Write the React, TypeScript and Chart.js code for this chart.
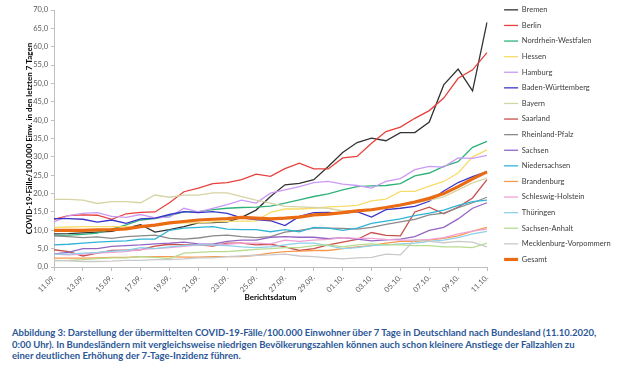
import React, { useEffect, useRef } from "react";
import { Chart, registerables } from "chart.js";

Chart.register(...registerables);

const dates = [
  "11.09.", "12.09.", "13.09.", "14.09.", "15.09.", "16.09.", "17.09.", "18.09.", "19.09.", "20.09.",
  "21.09.", "22.09.", "23.09.", "24.09.", "25.09.", "26.09.", "27.09.", "28.09.", "29.09.", "30.09.",
  "01.10.", "02.10.", "03.10.", "04.10.", "05.10.", "06.10.", "07.10.", "08.10.", "09.10.", "10.10.", "11.10.",
];

const bremen = [9.0, 9.1, 9.3, 9.5, 9.7, 10.6, 11.5, 9.5, 10.2, 11.0, 12.0, 12.1, 12.3, 13.5, 15.5, 19.2, 22.4, 22.8, 23.8, 27.4, 31.2, 33.9, 35.1, 34.4, 36.6, 36.6, 39.5, 49.6, 53.9, 48.0, 66.6];
const berlin = [13.0, 14.0, 14.2, 14.1, 13.0, 14.5, 14.9, 15.0, 17.5, 20.5, 21.5, 22.7, 23.0, 23.8, 25.3, 24.7, 26.8, 28.3, 26.7, 26.7, 29.7, 30.1, 33.7, 36.9, 38.1, 40.5, 42.6, 46.0, 51.4, 53.7, 58.4];
const nrw = [8.6, 8.7, 8.9, 9.2, 10.3, 11.5, 12.8, 13.2, 14.0, 15.0, 15.1, 15.6, 16.0, 16.2, 16.3, 16.6, 17.4, 18.3, 19.2, 19.9, 21.0, 21.9, 22.1, 22.2, 22.7, 24.8, 25.6, 27.4, 28.7, 32.6, 34.2];
const hessen = [10.8, 10.9, 11.0, 11.0, 11.0, 11.0, 11.0, 11.3, 11.8, 12.0, 12.0, 12.3, 12.4, 12.5, 12.5, 14.9, 15.8, 15.8, 16.0, 16.4, 16.5, 16.8, 18.0, 18.5, 20.6, 20.6, 22.0, 23.3, 25.6, 30.0, 31.9];
const hamburg = [12.3, 14.0, 14.6, 14.8, 13.8, 13.5, 14.3, 13.4, 13.6, 16.0, 15.0, 16.0, 17.0, 18.2, 17.4, 20.1, 21.0, 21.9, 23.0, 23.3, 22.6, 22.2, 21.5, 23.3, 24.1, 26.5, 27.4, 27.2, 29.7, 29.6, 30.4];
const badenWuerttemberg = [13.2, 13.2, 13.0, 12.2, 12.8, 11.9, 13.1, 13.3, 14.3, 15.1, 14.8, 15.1, 14.6, 13.4, 12.9, 12.6, 11.3, 13.8, 14.8, 14.9, 14.6, 15.1, 13.6, 15.6, 16.0, 16.5, 17.9, 20.7, 23.0, 24.6, 26.0];
const bayern = [18.4, 18.4, 18.2, 17.3, 17.8, 17.8, 17.5, 19.6, 19.0, 19.6, 19.6, 20.2, 20.2, 19.2, 18.2, 17.4, 16.5, 16.4, 16.2, 16.0, 15.3, 15.4, 15.8, 16.1, 16.7, 17.4, 18.2, 19.1, 21.0, 22.9, 24.2];
const saarland = [4.7, 4.2, 3.0, 3.8, 4.5, 4.6, 4.7, 5.7, 6.2, 6.0, 6.0, 5.7, 6.5, 6.5, 6.0, 6.2, 5.5, 4.5, 5.0, 6.0, 6.8, 7.5, 9.4, 8.6, 8.5, 15.0, 16.3, 14.5, 16.3, 18.8, 23.8];
const rheinlandPfalz = [8.5, 8.3, 8.0, 8.2, 7.8, 8.3, 8.5, 8.7, 7.8, 7.6, 7.9, 8.5, 8.7, 8.3, 8.0, 8.3, 9.5, 10.0, 10.6, 10.6, 10.5, 10.3, 10.8, 11.6, 12.3, 13.0, 14.2, 14.7, 16.2, 17.5, 19.0];
const sachsen = [3.6, 4.0, 5.0, 5.0, 5.6, 5.8, 6.0, 6.3, 6.5, 6.8, 6.3, 6.2, 7.0, 7.3, 7.3, 8.1, 8.3, 8.1, 8.1, 7.7, 8.0, 7.6, 7.1, 7.4, 7.6, 8.3, 10.0, 10.8, 13.1, 16.0, 17.5];
const niedersachsen = [6.0, 6.2, 6.5, 6.8, 7.0, 7.1, 7.6, 7.6, 10.0, 10.6, 10.8, 11.0, 10.3, 10.2, 10.2, 9.6, 10.2, 9.6, 10.8, 10.6, 10.0, 10.6, 11.9, 12.5, 13.1, 14.0, 14.7, 15.5, 16.8, 17.8, 18.2];
const brandenburg = [2.4, 2.4, 2.4, 2.5, 2.6, 2.6, 2.8, 2.8, 2.8, 2.7, 2.7, 2.8, 2.8, 2.8, 3.2, 3.8, 4.2, 4.3, 4.5, 4.5, 5.0, 5.5, 5.8, 6.5, 7.0, 7.0, 7.3, 7.8, 8.5, 9.8, 10.8];
const schleswigHolstein = [3.5, 3.3, 3.5, 3.8, 4.0, 4.2, 4.8, 5.0, 5.3, 5.6, 6.0, 6.0, 6.2, 6.5, 6.5, 6.3, 7.3, 7.0, 7.3, 7.5, 8.0, 7.8, 7.8, 7.5, 7.3, 7.3, 7.5, 8.0, 9.0, 9.8, 10.3];
const thueringen = [3.5, 3.5, 3.8, 4.0, 4.3, 4.5, 5.3, 5.0, 5.5, 5.8, 6.0, 6.0, 5.8, 5.5, 5.3, 5.5, 6.0, 6.5, 6.5, 5.8, 5.0, 5.3, 5.8, 6.0, 6.3, 6.5, 7.0, 7.3, 8.0, 9.0, 9.7];
const sachsenAnhalt = [1.7, 1.8, 2.0, 2.3, 2.5, 2.5, 2.8, 2.6, 2.3, 3.8, 4.0, 4.2, 4.2, 4.5, 4.8, 5.0, 5.3, 5.3, 5.8, 6.0, 5.5, 6.0, 6.3, 6.0, 6.0, 5.8, 5.8, 5.5, 5.5, 5.3, 6.5];
const mecklenburgVorpommern = [1.8, 1.7, 1.5, 1.5, 1.6, 1.8, 1.8, 2.0, 2.0, 2.2, 2.5, 2.5, 2.8, 3.0, 3.2, 3.3, 3.5, 3.0, 2.8, 2.5, 2.2, 2.5, 2.6, 3.5, 3.3, 7.4, 7.0, 6.6, 7.0, 6.8, 5.5];
const gesamt = [10.0, 10.0, 10.0, 10.1, 10.2, 10.4, 11.0, 11.4, 12.0, 12.4, 12.8, 13.0, 13.2, 13.5, 13.3, 13.1, 13.3, 13.6, 14.2, 14.4, 14.8, 15.3, 15.6, 16.2, 16.9, 17.7, 18.7, 20.0, 21.9, 24.0, 25.9];

const yTitle = "COVID-19-Fälle/100.000 Einw. in den letzten 7 Tagen";
const xTitle = "Berichtsdatum";
const captionLines = [
  "Abbildung 3: Darstellung der übermittelten COVID-19-Fälle/100.000 Einwohner über 7 Tage in Deutschland nach Bundesland (11.10.2020,",
  "0:00 Uhr). In Bundesländern mit vergleichsweise niedrigen Bevölkerungszahlen können auch schon kleinere Anstiege der Fallzahlen zu",
  "einer deutlichen Erhöhung der 7-Tage-Inzidenz führen.",
];

const FONT = "Lato, 'Liberation Sans', sans-serif";

const fixedLegendWidth = {
  id: "fixedLegendWidth",
  afterInit(chart: any) {
    const lg = chart.legend;
    if (lg) {
      const orig = lg.fit.bind(lg);
      lg.fit = function () {
        orig();
        this.width = 124;
      };
    }
  },
};

export default function App() {
  const ref = useRef<HTMLCanvasElement>(null);

  useEffect(() => {
    document.body.style.margin = "0";
    const series = [
      { label: "Bremen", data: bremen, color: "#333333", width: 1.3 },
      { label: "Berlin", data: berlin, color: "#e8403c", width: 1.3 },
      { label: "Nordrhein-Westfalen", data: nrw, color: "#2fb27a", width: 1.3 },
      { label: "Hessen", data: hessen, color: "#f8dc6a", width: 1.3 },
      { label: "Hamburg", data: hamburg, color: "#cc99f5", width: 1.3 },
      { label: "Baden-Württemberg", data: badenWuerttemberg, color: "#3a35c8", width: 1.3 },
      { label: "Bayern", data: bayern, color: "#d6d4a4", width: 1.3 },
      { label: "Saarland", data: saarland, color: "#c8504c", width: 1.3 },
      { label: "Rheinland-Pfalz", data: rheinlandPfalz, color: "#8a8a8a", width: 1.3 },
      { label: "Sachsen", data: sachsen, color: "#9466c4", width: 1.3 },
      { label: "Niedersachsen", data: niedersachsen, color: "#30b4d6", width: 1.3 },
      { label: "Brandenburg", data: brandenburg, color: "#f59a4e", width: 1.3 },
      { label: "Schleswig-Holstein", data: schleswigHolstein, color: "#f0a2d6", width: 1.3 },
      { label: "Thüringen", data: thueringen, color: "#8fd0ea", width: 1.3 },
      { label: "Sachsen-Anhalt", data: sachsenAnhalt, color: "#b8dc90", width: 1.3 },
      { label: "Mecklenburg-Vorpommern", data: mecklenburgVorpommern, color: "#c9c9c9", width: 1.3 },
      { label: "Gesamt", data: gesamt, color: "#ea6b14", width: 3.2 },
    ];
    const n = series.length;
    const chart = new Chart(ref.current as HTMLCanvasElement, {
      type: "line",
      plugins: [fixedLegendWidth],
      data: {
        labels: dates,
        datasets: series.map((s, i) => ({
          label: s.label,
          data: s.data,
          borderColor: s.color,
          backgroundColor: s.color,
          borderWidth: s.width,
          pointRadius: 0,
          tension: 0,
          fill: false,
          order: n - i,
          xAxisID: "x",
          yAxisID: "y",
        })),
      },
      options: {
        animation: false,
        responsive: false,
        maintainAspectRatio: false,
        layout: { padding: { top: 0, right: 0, bottom: 0, left: 0 } },
        plugins: {
          tooltip: { enabled: false },
          legend: {
            position: "right",
            align: "start",
            labels: {
              usePointStyle: true,
              pointStyleWidth: 14,
              boxHeight: 7.5,
              padding: 8.1,
              color: "#404040",
              font: { family: FONT, size: 7.5 },
              sort: (a: any, b: any) => a.datasetIndex - b.datasetIndex,
              generateLabels: (c: any) =>
                c.data.datasets.map((ds: any, i: number) => ({
                  text: ds.label,
                  fillStyle: ds.borderColor,
                  strokeStyle: ds.borderColor,
                  lineWidth: ds.borderWidth,
                  pointStyle: "line",
                  hidden: false,
                  datasetIndex: i,
                  fontColor: "#404040",
                })),
            },
          },
        },
        scales: {
          x: {
            type: "category",
            position: "bottom",
            offset: false,
            grid: { display: true, drawOnChartArea: false, drawTicks: true, tickLength: 4, color: "#bfbfbf" },
            border: { display: true, color: "#bfbfbf", width: 1 },
            afterBuildTicks: (s: any) => {
              s.ticks = s.ticks.filter((t: any, i: number) => i % 2 === 0);
            },
            ticks: {
              autoSkip: false,
              minRotation: 45,
              maxRotation: 45,
              padding: 2,
              color: "#595959",
              font: { family: FONT, size: 7.5 },
            },
            title: {
              display: true,
              text: xTitle,
              color: "#000000",
              font: { family: FONT, size: 8, weight: "bold" },
              padding: { top: 0, bottom: 7.5 },
            },
            afterFit: (s: any) => {
              s.height = 43;
            },
          },
          xTop: {
            type: "category",
            position: "top",
            display: true,
            grid: { display: false },
            border: { display: false },
            ticks: { display: false },
            afterFit: (s: any) => {
              s.height = 12;
            },
          },
          y: {
            type: "linear",
            position: "left",
            min: 0,
            max: 70,
            grid: { display: true, drawOnChartArea: false, drawTicks: true, tickLength: 3, color: "#bfbfbf" },
            border: { display: true, color: "#bfbfbf", width: 1 },
            ticks: {
              stepSize: 5,
              padding: 3,
              color: "#595959",
              font: { family: FONT, size: 7.5 },
              callback: (v: any) => Number(v).toFixed(1).replace(".", ","),
            },
            title: {
              display: true,
              text: yTitle,
              color: "#000000",
              font: { family: FONT, size: 8, weight: "bold" },
              padding: { top: 25, bottom: 0 },
            },
            afterFit: (s: any) => {
              s.width = 54;
            },
          },
          yR: {
            type: "linear",
            position: "right",
            display: true,
            min: 0,
            max: 1,
            grid: { display: false },
            border: { display: false },
            ticks: { display: false },
            afterFit: (s: any) => {
              s.width = 9;
            },
          },
        },
      },
    } as any);
    return () => chart.destroy();
  }, []);

  return (
    <div style={{ position: "relative", width: 620, height: 383, background: "#ffffff", overflow: "hidden" }}>
      <canvas
        ref={ref}
        width={620}
        height={312}
        style={{ position: "absolute", left: 0, top: -2, width: 620, height: 312 }}
      />
      <div
        style={{
          position: "absolute",
          left: 12,
          top: 327,
          fontFamily: FONT,
          fontWeight: "bold",
          fontSize: 9.5,
          lineHeight: "11.6px",
          color: "#2b5797",
          whiteSpace: "nowrap",
        }}
      >
        {captionLines.map((l, i) => (
          <div key={i}>{l}</div>
        ))}
      </div>
    </div>
  );
}
